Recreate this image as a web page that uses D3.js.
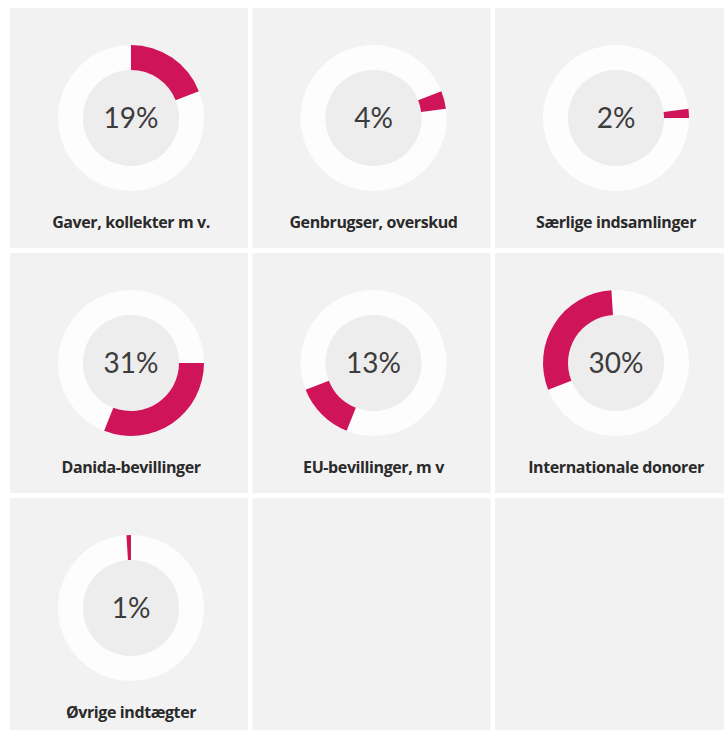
<!DOCTYPE html>
<html>
<head>
<meta charset="utf-8">
<script src="https://cdn.jsdelivr.net/npm/d3@7"></script>
<style>
  body { margin: 0; background: #ffffff; }
  svg { display: block; }
</style>
</head>
<body>
<div id="vis"></div>
<script>
// income sources, share of total (%)
var categories = ['Gaver, kollekter m v.', 'Genbrugser, overskud', 'Særlige indsamlinger',
                  'Danida-bevillinger', 'EU-bevillinger, m v', 'Internationale donorer',
                  'Øvrige indtægter'];
var shares = [19, 4, 2, 31, 13, 30, 1];

var width = 724, height = 730;
var cols = 3, rows = 3;
var gridLeft = 10, gridTop = 8;
var strideX = 242.5, strideY = 245;
var cellW = 238, cellH = 240;
var outerR = 73, innerR = 48;

var svg = d3.select('#vis')
  .append('svg')
  .attr('width', width)
  .attr('height', height)
  .style('background', '#ffffff');

// cumulative layout, so each slice sits where it would in the full pie
var pie = d3.pie().sort(null).value(function(d){ return d; });
var slices = pie(shares);

var arc = d3.arc().innerRadius(innerR).outerRadius(outerR);
var ring = d3.arc().innerRadius(innerR).outerRadius(outerR).startAngle(0).endAngle(2 * Math.PI);

// empty cells too
var cellIdx = d3.range(cols * rows);
svg.selectAll('rect.cell')
  .data(cellIdx)
  .enter().append('rect')
  .attr('class', 'cell')
  .attr('x', function(i){ return gridLeft + (i % cols) * strideX; })
  .attr('y', function(i){ return gridTop + Math.floor(i / cols) * strideY; })
  .attr('width', cellW)
  .attr('height', cellH)
  .attr('fill', '#f3f2f2');

var g = svg.selectAll('g.donut')
  .data(slices)
  .enter().append('g')
  .attr('class', 'donut')
  .attr('transform', function(d, i){
    var cx = gridLeft + (i % cols) * strideX + cellW / 2 + 2;
    var cy = gridTop + Math.floor(i / cols) * strideY + 110;
    return 'translate(' + cx + ',' + cy + ')';
  });

g.append('path')
  .attr('d', ring())
  .attr('fill', '#fdfdfd');

g.append('circle')
  .attr('r', innerR)
  .attr('fill', '#eeeded');

g.append('path')
  .attr('d', arc)
  .attr('fill', '#cf1459');

g.append('text')
  .attr('y', 3)
  .attr('text-anchor', 'middle')
  .attr('dominant-baseline', 'middle')
  .style('font-family', 'Lato, sans-serif')
  .style('font-size', '28px')
  .style('fill', '#3c3c3c')
  .text(function(d){ return d.value + '%'; });

g.append('text')
  .attr('y', 106)
  .attr('text-anchor', 'middle')
  .attr('dominant-baseline', 'middle')
  .style('font-family', '"Open Sans", sans-serif')
  .style('font-weight', 'bold')
  .style('font-size', '16px')
  .style('letter-spacing', '-0.4px')
  .style('fill', '#2a2a2a')
  .text(function(d, i){ return categories[i]; });
</script>
</body>
</html>
